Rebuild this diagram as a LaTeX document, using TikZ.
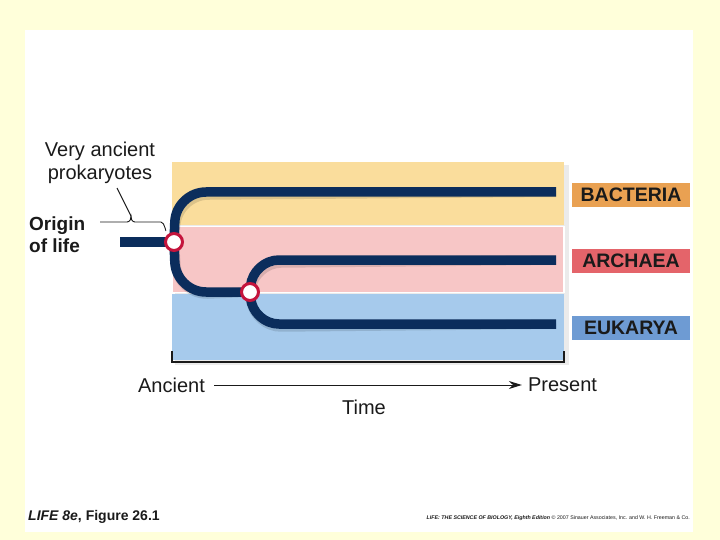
\documentclass[tikz,border=0pt]{standalone}
\usepackage{fontspec}
\setmainfont{Liberation Sans}
\usetikzlibrary{arrows.meta}
\definecolor{bgyel}{HTML}{FFFFDA}
\definecolor{bandY}{HTML}{FADD9C}
\definecolor{bandP}{HTML}{F7C6C6}
\definecolor{bandB}{HTML}{A6CAEC}
\definecolor{navy}{HTML}{0B2D5C}
\definecolor{jred}{HTML}{C4143C}
\definecolor{boxB}{HTML}{E9A152}
\definecolor{boxA}{HTML}{E4646A}
\definecolor{boxE}{HTML}{6E9BD3}
\definecolor{txt}{HTML}{1A1A1A}
\pgfdeclarelayer{base}
\pgfdeclarelayer{back}
\pgfdeclarelayer{mid}
\pgfsetlayers{base,back,mid,main}
\newcommand\treepaths{%
  \draw[branch] (o0) -- (n1);
  \draw[branch, rounded corners=30pt] (n1) -- (176,192) -- (eB);
  \draw[branch, rounded corners=30pt] (n1) -- (176,292) -- (n2);
  \draw[branch, rounded corners=26pt] (n2) -- (253,260) -- (eA);
  \draw[branch, rounded corners=26pt] (n2) -- (253,324) -- (eE);
}
\begin{document}
\begin{tikzpicture}[x=1pt,y=-1pt,
  branch/.style={line width=9.5pt, draw=navy, line cap=butt},
  junction/.style={circle, draw=jred, line width=3pt, fill=white, minimum size=17pt, inner sep=0pt},
  taxon/.style={font=\fontsize{19.5}{19.5}\selectfont\bfseries, text=txt, minimum width=118pt, minimum height=24pt, inner sep=0pt},
  lbl/.style={font=\fontsize{20}{23}\selectfont, text=txt, inner sep=0pt},
]
\useasboundingbox (0,0) rectangle (720,540);
\begin{pgfonlayer}{base}
\fill[bgyel] (0,0) rectangle (720,540);
\fill[white] (25,30) rectangle (693,532);
\end{pgfonlayer}

% bands
\begin{pgfonlayer}{back}
\fill[black, opacity=0.08] (175,165) rectangle (569,365);
\fill[bandY] (172,162) rectangle (564,225);
\fill[bandP, draw=white, line width=1.5pt] (172,226.5) rectangle (564,292.5);
\fill[bandB] (172,294) rectangle (564,360);
\end{pgfonlayer}

% bracket
\draw[line width=1.5pt, txt] (172,351) -- (172,362) -- (564,362) -- (564,351);

% tree
\coordinate (o0) at (120,242);
\coordinate (n1) at (174,242);
\coordinate (n2) at (250,292);
\coordinate (eB) at (556,192);
\coordinate (eA) at (556,260);
\coordinate (eE) at (556,324);
\begin{pgfonlayer}{mid}
\begin{scope}[shift={(2,3)}, opacity=0.12, branch/.style={line width=10pt, draw=black, line cap=butt}]
\treepaths
\end{scope}
\treepaths
\end{pgfonlayer}
\node[junction] (j1) at (n1) {};
\node[junction] (j2) at (n2) {};

% taxa labels
\node[taxon, fill=boxB] (bac) at (631,195) {BACTERIA};
\node[taxon, fill=boxA] (arc) at (631,261) {ARCHAEA};
\node[taxon, fill=boxE] (euk) at (631,327.5) {EUKARYA};

% left labels
\node[lbl, align=center] (vap) at (100,163) {Very ancient\\prokaryotes};
\node[lbl, font=\fontsize{19}{22}\selectfont\bfseries, align=left, anchor=west] (ool) at (29,235) {Origin\\of life};

% brace
\coordinate (tip) at (131,216);
\coordinate (ptr) at (117,188);
\draw[line width=0.9pt, txt] (100,222) -- (127,222) to[out=0,in=-80] (tip) to[out=-100,in=180] (135,222) -- (161,222) to[out=0,in=-90] (166,230);
\draw[line width=0.9pt, txt] (tip) -- (ptr);

% time axis
\node[lbl, anchor=center] (anc) at (171.5,385) {Ancient};
\node[lbl, anchor=center] (pres) at (562.5,385) {Present};
\node[lbl, anchor=center] (time) at (364,407) {Time};
\draw[line width=1pt, txt, -{Stealth[length=13pt,width=8pt]}, shorten <=9pt, shorten >=6pt] (anc.east) -- (pres.west);

% footer
\node[anchor=west, inner sep=0pt, font=\fontsize{14}{14}\selectfont\bfseries, text=txt] (fig) at (28,517) {\textit{LIFE 8e}, Figure 26.1};
\node[anchor=east, inner sep=0pt, font=\fontsize{5.3}{6}\selectfont, text=txt] (cred) at (690,518) {\textbf{\textit{LIFE: THE SCIENCE OF BIOLOGY, Eighth Edition}} \copyright\ 2007 Sinauer Associates, Inc. and W. H. Freeman \& Co.};
\end{tikzpicture}
\end{document}
